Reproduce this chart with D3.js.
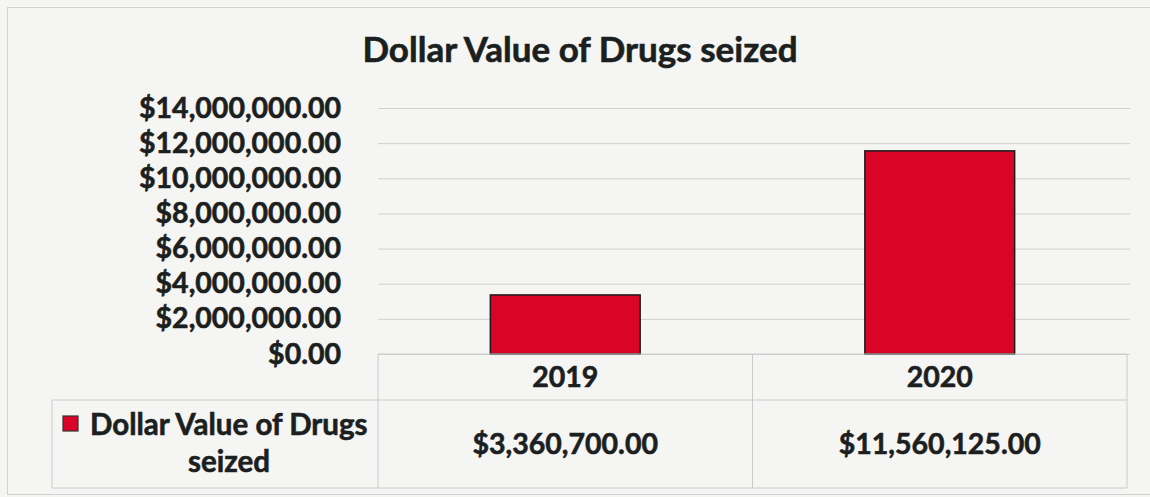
<!DOCTYPE html>
<html>
<head>
<meta charset="utf-8">
<script src="https://cdn.jsdelivr.net/npm/d3@7"></script>
<style>
  body { margin: 0; background: #f5f5f4; }
  svg { display: block; }
  text {
    font-family: Lato, "Open Sans", sans-serif;
    font-weight: 700;
    fill: #1c1f1f;
    stroke: #1c1f1f;
    stroke-width: 0.6px;
    paint-order: stroke;
  }
</style>
</head>
<body>
<svg id="chart"></svg>
<script>
const title = 'Dollar Value of Drugs seized';
const seriesName = 'Dollar Value of Drugs seized';
const years = ['2019', '2020'];
const seized = [3360700, 11560125];
const yTicks = [0, 2000000, 4000000, 6000000, 8000000, 10000000, 12000000, 14000000];

const width = 1150;
const height = 497;
const money = d3.format('$,.2f');

const svg = d3.select('#chart')
    .attr('width', width)
    .attr('height', height);

// chart frame
svg.append('rect')
    .attr('x', 7.5)
    .attr('y', 7.5)
    .attr('width', width + 10)
    .attr('height', 487)
    .attr('fill', 'none')
    .attr('stroke', '#d2d2d2');

const plotLeft = 378, plotRight = 1127;
const plotTop = 108, plotBottom = 354;

const x = d3.scaleBand()
    .domain(years)
    .range([plotLeft, plotRight])
    .paddingInner(0.6)
    .paddingOuter(0.3);

const y = d3.scaleLinear()
    .domain([0, 14000000])
    .range([plotBottom, plotTop]);

// gridlines
svg.append('g')
    .attr('transform', 'translate(' + plotLeft + ',0)')
    .call(d3.axisRight(y).tickValues(yTicks).tickSize(plotRight - plotLeft + 3).tickFormat(''))
    .call(g => g.select('.domain').remove())
    .selectAll('line')
    .attr('stroke', '#d0d0d0')
    .attr('stroke-width', 1);

// y labels
svg.append('g')
    .attr('transform', 'translate(341,0)')
    .call(d3.axisLeft(y).tickValues(yTicks).tickSize(0).tickPadding(0).tickFormat(money))
    .call(g => g.select('.domain').remove())
    .selectAll('text')
    .attr('font-size', 28.5)
    .attr('font-family', null)
    .attr('fill', null);

// bars
svg.append('g')
    .selectAll('rect')
    .data(years)
    .join('rect')
    .attr('x', d => x(d))
    .attr('y', (d, i) => y(seized[i]))
    .attr('width', x.bandwidth())
    .attr('height', (d, i) => y(0) - y(seized[i]))
    .attr('fill', '#da0526')
    .attr('stroke', '#1a1a1a')
    .attr('stroke-width', 1.5);

// data table
const rowTop = plotBottom, rowMid = 400, rowBottom = 488;
const legendLeft = 52;
const grid = svg.append('g')
    .attr('fill', 'none')
    .attr('stroke', '#cacaca')
    .attr('stroke-width', 1);
grid.append('path')
    .attr('d', `M${plotLeft},${rowTop}H${plotRight}V${rowBottom}H${legendLeft}V${rowMid}H${plotRight}`);
grid.append('path')
    .attr('d', `M${plotLeft},${rowTop}V${rowBottom}`);
grid.selectAll('line.col')
    .data(years.slice(1))
    .join('line')
    .attr('x1', d => x(d) - x.step() * x.paddingInner() / 2)
    .attr('x2', d => x(d) - x.step() * x.paddingInner() / 2)
    .attr('y1', rowTop)
    .attr('y2', rowBottom);

svg.append('g')
    .selectAll('text')
    .data(years)
    .join('text')
    .attr('x', d => x(d) + x.bandwidth() / 2)
    .attr('y', (rowTop + rowMid) / 2)
    .attr('dy', '0.35em')
    .attr('text-anchor', 'middle')
    .attr('font-size', 28.5)
    .text(d => d);

svg.append('g')
    .selectAll('text')
    .data(seized)
    .join('text')
    .attr('x', (d, i) => x(years[i]) + x.bandwidth() / 2)
    .attr('y', (rowMid + rowBottom) / 2)
    .attr('dy', '0.35em')
    .attr('text-anchor', 'middle')
    .attr('font-size', 28.5)
    .text(d => money(d));

// legend key
svg.append('rect')
    .attr('x', 63)
    .attr('y', 416)
    .attr('width', 15)
    .attr('height', 15)
    .attr('fill', '#da0526')
    .attr('stroke', '#333')
    .attr('stroke-width', 1.2);

const words = seriesName.split(' ');
const legend = svg.append('text')
    .attr('font-size', 29.5);
legend.append('tspan')
    .attr('x', 90)
    .attr('y', 435)
    .text(words.slice(0, 4).join(' '));
legend.append('tspan')
    .attr('x', 229)
    .attr('y', 472)
    .attr('text-anchor', 'middle')
    .text(words.slice(4).join(' '));

// title
svg.append('text')
    .attr('x', 580)
    .attr('y', 62)
    .attr('text-anchor', 'middle')
    .attr('font-size', 35)
    .text(title);
</script>
</body>
</html>
